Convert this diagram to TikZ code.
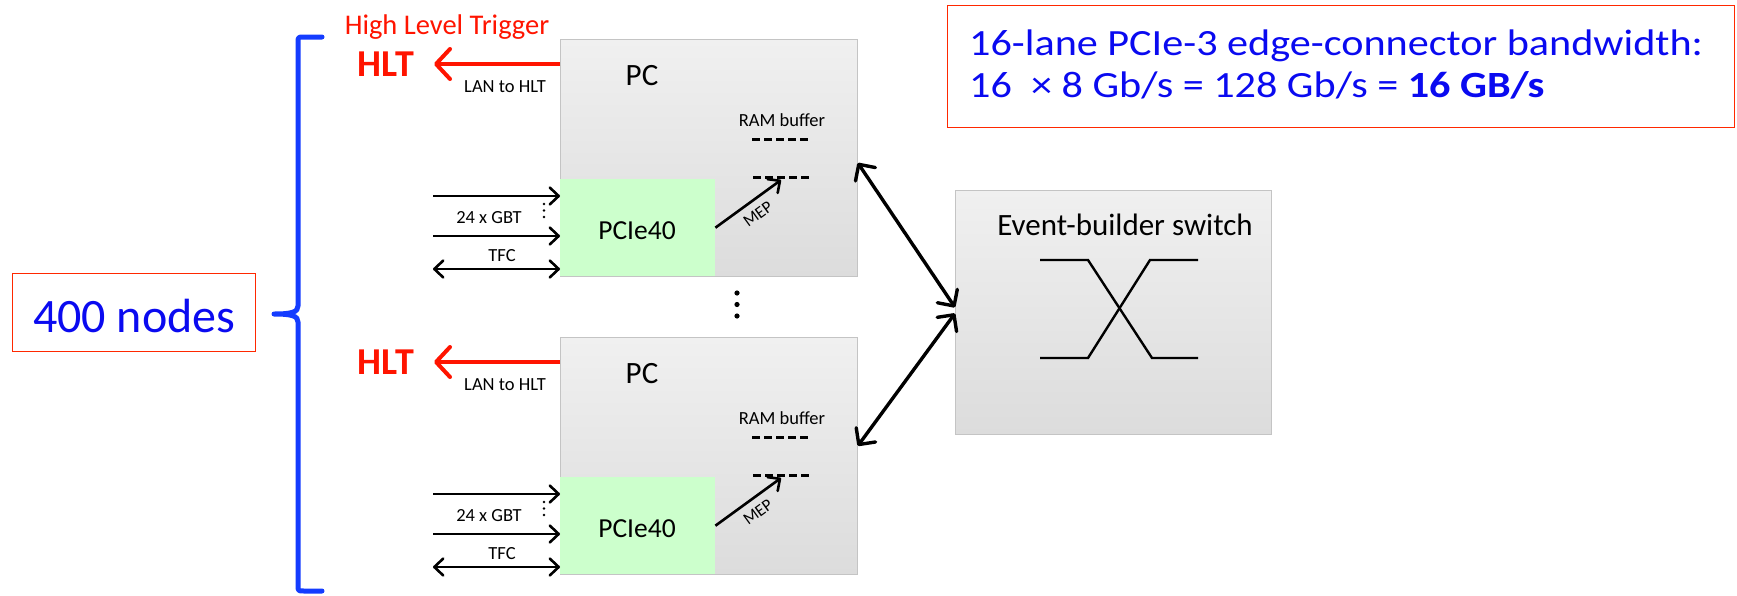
\documentclass[tikz,border=0pt]{standalone}
\usepackage{fontspec}
\setmainfont{Carlito}
\usetikzlibrary{arrows.meta,calc}

\definecolor{boxtop}{RGB}{240,240,240}
\definecolor{boxbot}{RGB}{220,220,220}
\definecolor{boxedge}{RGB}{196,196,196}
\definecolor{cardgreen}{RGB}{204,255,204}
\definecolor{frame}{RGB}{255,40,0}
\definecolor{hltred}{RGB}{255,20,0}
\definecolor{txtblue}{RGB}{10,10,240}
\definecolor{braceblue}{RGB}{20,60,255}

\newcommand{\fs}[1]{\fontsize{#1}{1.2\dimexpr#1pt\relax}\selectfont}

\tikzset{
  pcbox/.style={draw=boxedge, line width=0.8pt, top color=boxtop, bottom color=boxbot,
    anchor=north west, inner sep=0pt},
  cardbox/.style={fill=cardgreen, anchor=north west, inner sep=0pt,
    minimum width=155pt, minimum height=97pt},
  lbl/.style={inner sep=0pt, anchor=base, font=\fs{18.5}},
  link/.style={line width=2.6pt, -{Straight Barb[length=9pt,width=17pt,line cap=round,line join=round]}},
  dlink/.style={line width=2.6pt, {Straight Barb[length=9pt,width=17pt,line cap=round,line join=round]}-{Straight Barb[length=9pt,width=17pt,line cap=round,line join=round]}},
  swlink/.style={line width=3.4pt, {Straight Barb[length=12pt,width=24pt,line cap=round,line join=round]}-{Straight Barb[length=12pt,width=24pt,line cap=round,line join=round]}},
  lanlink/.style={draw=hltred, line width=4pt, -{Straight Barb[length=14pt,width=30pt,line cap=round,line join=round]}},
  bufline/.style={line width=3pt, dash pattern=on 8pt off 4pt},
  redframe/.style={draw=frame, line width=1.3pt, inner sep=0pt},
}

\begin{document}
\begin{tikzpicture}[x=1pt,y=-1pt]
\useasboundingbox (0,0) rectangle (1737,595);

% two identical readout PCs
\foreach \i/\T in {1/39, 2/337}{
  \node[pcbox, minimum width=297pt, minimum height=237pt] (pc\i) at (560,\T) {};
  \node[cardbox] (card\i) at (560,{\T+140}) {};
  \node[inner sep=0pt, anchor=base, font=\fs{31}] (pcname\i) at (642,{\T+46}) {PC};
  \node[inner sep=0pt, anchor=base, font=\fs{27.5}] (cardname\i) at (637,{\T+200}) {PCIe40};
  \node[lbl] (ram\i) at (782,{\T+87}) {RAM buffer};
  % RAM buffer slots
  \coordinate (bufa\i) at (752,{\T+100});
  \coordinate (bufb\i) at (808,{\T+100});
  \coordinate (bufc\i) at (753,{\T+138});
  \coordinate (bufd\i) at (809,{\T+138});
  \coordinate (mep\i) at (781,{\T+141});
  \draw[bufline] (bufa\i) -- (bufb\i);
  \draw[bufline] (bufc\i) -- (bufd\i);
  \draw[link] (card\i.east) -- (mep\i);
  \node[inner sep=0pt, font=\fs{17}, rotate=36] (meplbl\i) at (758,{\T+175}) {MEP};
  % HLT output
  \node[inner sep=0pt, anchor=base east, font=\fs{38}\bfseries, text=hltred] (hlt\i) at (414,{\T+37}) {HLT};
  \coordinate (lan\i) at (560,{\T+25});
  \draw[lanlink] (lan\i) -- (434,{\T+25});
  \node[lbl] (lanlbl\i) at (505,{\T+53}) {LAN to HLT};
  % front-end links
  \coordinate (gbta\i) at (433,{\T+157});
  \coordinate (gbtb\i) at (433,{\T+197});
  \coordinate (tfc\i) at (433,{\T+230});
  \draw[link] (gbta\i) -- (card\i.west |- gbta\i);
  \draw[link] (gbtb\i) -- (card\i.west |- gbtb\i);
  \draw[dlink] (tfc\i) -- (card\i.west |- tfc\i);
  \node[lbl] (gbtlbl\i) at (489,{\T+184}) {24 x GBT};
  \node[lbl] (tfclbl\i) at (502,{\T+222}) {TFC};
  \foreach \d in {165,171.5,178}{
    \fill (544,{\T+\d}) circle (1.3pt);
  }
}

\node[inner sep=0pt, anchor=base, font=\fs{28.5}, text=hltred] (hltname) at (447,34) {High Level Trigger};

% more PCs in between
\foreach \d in {293,304.5,316}{
  \fill (737,\d) circle (2.6pt);
}

% event builder
\node[pcbox, minimum width=316pt, minimum height=244pt] (sw) at (955,190) {};
\node[inner sep=0pt, anchor=base, font=\fs{31}] (swname) at (1125,235) {Event-builder switch};
\draw[line width=2.4pt, line join=miter] (1040,260) -- (1088,260) -- (1152,358) -- (1198,358);
\draw[line width=2.4pt, line join=miter] (1040,358) -- (1088,358) -- (1150,260) -- (1198,260);

\draw[swlink] ([yshift=-5pt]pc1.east) -- ([yshift=5pt]sw.west);
\draw[swlink] ([yshift=10pt]pc2.east) -- ([yshift=-1pt]sw.west);

% farm size
\node[redframe, minimum width=243pt, minimum height=78pt, anchor=north west] (farm) at (12,273) {};
\node[inner sep=0pt, anchor=base, font=\fs{48}, text=txtblue] (farmtxt) at (farm.center |- 0,332) {400 nodes};
\draw[braceblue, line width=5pt, line cap=round, line join=round]
  (322,37) -- (304,37) .. controls (298,37) .. (298,43) -- (298,306)
  .. controls (298,312) and (292,314) .. (274,314)
  .. controls (292,314) and (298,316) .. (298,322) -- (298,585)
  .. controls (298,591) .. (304,591) -- (322,591);

% link bandwidth note
\node[redframe, minimum width=787pt, minimum height=122pt, anchor=north west] (bw) at (947,5) {};
\node[inner sep=0pt, anchor=base west, font=\fs{37}, text=txtblue] (bwl1) at (969,55)
  {\scalebox{1.14}[1]{16-lane PCIe-3 edge-connector bandwidth:}};
\node[inner sep=0pt, anchor=base west, font=\fs{37}, text=txtblue] (bwl2) at (969,97)
  {\scalebox{1.14}[1]{16~~×~8 Gb/s = 128 Gb/s = \textbf{16 GB/s}}};
\end{tikzpicture}
\end{document}
